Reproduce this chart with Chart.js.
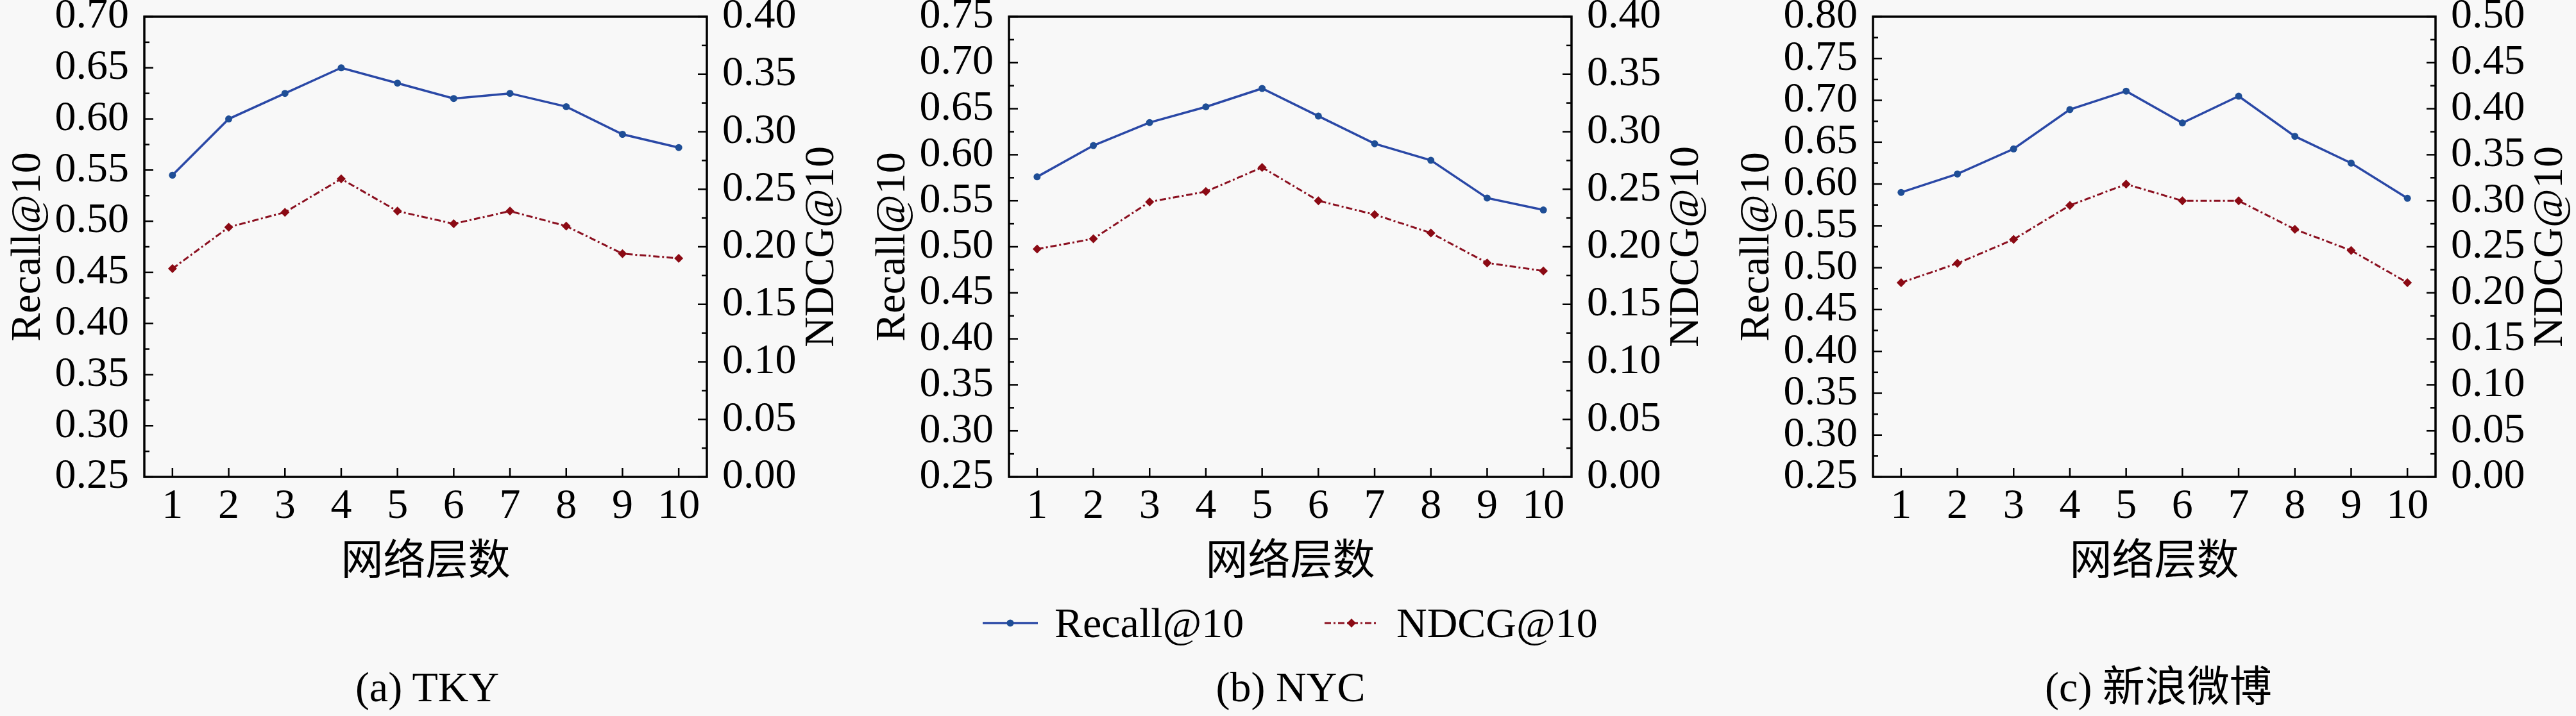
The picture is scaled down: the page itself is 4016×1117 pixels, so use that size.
<!DOCTYPE html>
<html lang="zh">
<head>
    <meta charset="UTF-8">
    <title>网络层数</title>
    <script src="https://cdn.jsdelivr.net/npm/chart.js@4.4.1/dist/chart.umd.min.js"></script>
    <style>
        body { margin: 0; background: #f8f8f8; overflow: hidden; }
        #fig { position: relative; width: 4016px; height: 1117px; overflow: hidden;
               font-family: 'Liberation Serif', 'Noto Sans CJK SC', serif; color: #000; }
        .panel { position: absolute; top: 0; width: 1340px; height: 920px; }
        .cap { position: absolute; top: 1039px; width: 1340px; text-align: center;
               font-size: 66px; line-height: 66px; white-space: nowrap; }
        .leg { position: absolute; top: 940px; font-size: 66px; line-height: 64px; white-space: nowrap; }
        .legmark { position: absolute; top: 952px; }
    </style>
</head>
<body>
<div id="fig">
    <div class="panel" style="left:0px"><canvas id="chartTky"></canvas></div>
    <div class="panel" style="left:1348px"><canvas id="chartNyc"></canvas></div>
    <div class="panel" style="left:2695px"><canvas id="chartWeibo"></canvas></div>

    <!-- legend -->
    <svg class="legmark" style="left:1532px" width="86" height="40">
        <line x1="0" y1="20" x2="86" y2="20" stroke="#2a48a6" stroke-width="3.5"/>
        <circle cx="43" cy="20" r="5.5" fill="#1f4e96"/>
    </svg>
    <div class="leg" style="left:1644px">Recall@10</div>
    <svg class="legmark" style="left:2065px" width="84" height="40">
        <line x1="0" y1="20" x2="84" y2="20" stroke="#8b1020" stroke-width="3" stroke-dasharray="10 4 3 4"/>
        <polygon points="42,13 49,20 42,27 35,20" fill="#8b0a14"/>
    </svg>
    <div class="leg" style="left:2177px">NDCG@10</div>

    <!-- captions -->
    <div class="cap" style="left:-4px">(a) TKY</div>
    <div class="cap" style="left:1342px">(b) NYC</div>
    <div class="cap" style="left:2695px">(c) 新浪微博</div>
</div>

<script>
    // x categories: number of network layers
    const layers = ['1', '2', '3', '4', '5', '6', '7', '8', '9', '10'];

    // TKY
    const tkyRecall = [0.545, 0.600, 0.625, 0.650, 0.635, 0.620, 0.625, 0.612, 0.585, 0.572];
    const tkyNdcg   = [0.181, 0.217, 0.230, 0.259, 0.231, 0.220, 0.231, 0.218, 0.194, 0.190];
    // NYC
    const nycRecall = [0.576, 0.610, 0.635, 0.652, 0.672, 0.642, 0.612, 0.594, 0.553, 0.540];
    const nycNdcg   = [0.198, 0.207, 0.239, 0.248, 0.269, 0.240, 0.228, 0.212, 0.186, 0.179];
    // 新浪微博
    const weiboRecall = [0.590, 0.612, 0.642, 0.689, 0.711, 0.673, 0.705, 0.657, 0.625, 0.583];
    const weiboNdcg   = [0.211, 0.232, 0.258, 0.295, 0.318, 0.300, 0.300, 0.269, 0.246, 0.211];

    // axis ranges [min, max] for Recall (left) and NDCG (right)
    const tkyRange   = [[0.25, 0.70], [0.00, 0.40]];
    const nycRange   = [[0.25, 0.75], [0.00, 0.40]];
    const weiboRange = [[0.25, 0.80], [0.00, 0.50]];
    const tickStep = 0.05;

    const serif = "'Liberation Serif', serif";
    const cjk = "'Noto Sans CJK SC', sans-serif";

    // box around plot, inward ticks, right title reading bottom-to-top
    const frame = {
        id: 'frame',
        beforeDatasetsDraw(chart) {
            const ctx = chart.ctx, a = chart.chartArea, sc = chart.scales;
            ctx.save();
            ctx.strokeStyle = '#000';
            ctx.lineWidth = 2.5;
            const seg = (x1, y1, x2, y2) => { ctx.beginPath(); ctx.moveTo(x1, y1); ctx.lineTo(x2, y2); ctx.stroke(); };
            sc.x.ticks.forEach((t, i) => {
                const px = sc.x.getPixelForTick(i);
                seg(px, a.bottom, px, a.bottom - 14);
            });
            [['y', a.left, 1], ['y1', a.right, -1]].forEach(([id, x0, dir]) => {
                const s = sc[id];
                for (let k = 0; ; k++) {
                    const v = s.min + k * tickStep / 2;
                    if (v > s.max + 1e-9) break;
                    const py = s.getPixelForValue(v);
                    seg(x0, py, x0 + dir * (k % 2 === 0 ? 14 : 8), py);
                }
            });
            ctx.lineWidth = 3.5;
            ctx.strokeRect(a.left, a.top, a.right - a.left, a.bottom - a.top);
            ctx.restore();
        },
        afterDraw(chart, args, opts) {
            const ctx = chart.ctx, a = chart.chartArea;
            ctx.save();
            ctx.translate(a.right + 180, (a.top + a.bottom) / 2);
            ctx.rotate(-Math.PI / 2);
            ctx.font = '66px ' + serif;
            ctx.fillStyle = '#000';
            ctx.textAlign = 'center';
            ctx.textBaseline = 'middle';
            ctx.fillText(opts.rightTitle, 0, 0);
            ctx.restore();
        }
    };

    function makePanel(id, recall, ndcg, range) {
        new Chart(document.getElementById(id), {
            type: 'line',
            data: {
                labels: layers,
                datasets: [{
                    label: 'Recall@10',
                    data: recall,
                    yAxisID: 'y',
                    borderColor: '#2a48a6',
                    borderWidth: 3.5,
                    pointStyle: 'circle',
                    pointRadius: 5.5,
                    pointBackgroundColor: '#1f4e96',
                    pointBorderColor: '#1f4e96',
                    pointBorderWidth: 0,
                    tension: 0
                }, {
                    label: 'NDCG@10',
                    data: ndcg,
                    yAxisID: 'y1',
                    borderColor: '#8b1020',
                    borderWidth: 3,
                    borderDash: [10, 4, 3, 4],
                    pointStyle: 'rectRot',
                    pointRadius: 7,
                    pointBackgroundColor: '#8b0a14',
                    pointBorderColor: '#8b0a14',
                    pointBorderWidth: 0,
                    tension: 0
                }]
            },
            options: {
                responsive: true,
                maintainAspectRatio: false,
                devicePixelRatio: 1,
                animation: false,
                events: [],
                layout: { padding: { top: 26, left: 0, right: 0, bottom: 0 } },
                plugins: {
                    legend: { display: false },
                    tooltip: { enabled: false },
                    frame: { rightTitle: 'NDCG@10' }
                },
                scales: {
                    x: {
                        type: 'category',
                        offset: true,
                        grid: { display: false, drawTicks: false },
                        border: { display: false },
                        ticks: { color: '#000', font: { family: serif, size: 66 }, padding: 7,
                                 maxRotation: 0, autoSkip: false },
                        title: { display: true, text: '网络层数', color: '#000',
                                 font: { family: cjk, size: 66 }, padding: { top: 0, bottom: 9 } },
                        afterFit(s) { s.height = 176; s.paddingLeft = 0; s.paddingRight = 0; }
                    },
                    y: {
                        position: 'left',
                        min: range[0][0],
                        max: range[0][1],
                        grid: { display: false, drawTicks: false },
                        border: { display: false },
                        ticks: { stepSize: tickStep, autoSkip: false, color: '#000',
                                 font: { family: serif, size: 66, lineHeight: 1 },
                                 padding: 24, callback: v => v.toFixed(2) },
                        title: { display: true, text: 'Recall@10', color: '#000',
                                 font: { family: serif, size: 66 }, padding: { top: 5, bottom: 0 } },
                        afterFit(s) { s.width = 225; s.paddingTop = 0; s.paddingBottom = 0; }
                    },
                    y1: {
                        position: 'right',
                        min: range[1][0],
                        max: range[1][1],
                        grid: { display: false, drawTicks: false },
                        border: { display: false },
                        ticks: { stepSize: tickStep, autoSkip: false, color: '#000',
                                 font: { family: serif, size: 66, lineHeight: 1 },
                                 padding: 24, callback: v => v.toFixed(2) },
                        afterFit(s) { s.width = 238; s.paddingTop = 0; s.paddingBottom = 0; }
                    }
                }
            },
            plugins: [frame]
        });
    }

    makePanel('chartTky', tkyRecall, tkyNdcg, tkyRange);
    makePanel('chartNyc', nycRecall, nycNdcg, nycRange);
    makePanel('chartWeibo', weiboRecall, weiboNdcg, weiboRange);
</script>
</body>
</html>
